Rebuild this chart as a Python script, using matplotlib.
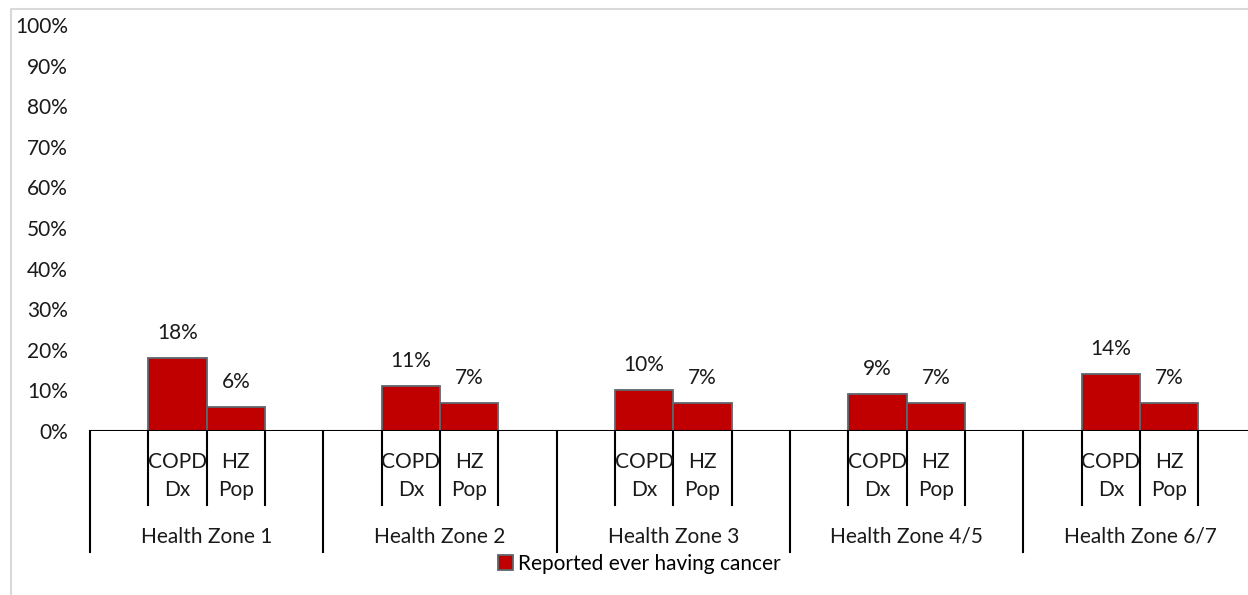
import matplotlib
matplotlib.use("Agg")
import matplotlib.pyplot as plt
from matplotlib.lines import Line2D
from matplotlib.patches import Patch

plt.rcParams['font.family'] = ['Lato', 'DejaVu Sans']

# Share reporting ever having cancer, by health zone
zones = ['Health Zone 1', 'Health Zone 2', 'Health Zone 3', 'Health Zone 4/5', 'Health Zone 6/7']
groups_top = ['COPD', 'HZ']
groups_bottom = ['Dx', 'Pop']
copd_dx = [18, 11, 10, 9, 14]
hz_pop = [6, 7, 7, 7, 7]
series_name = 'Reported ever having cancer'

bar_color = '#c00000'
edge_color = '#5f666d'
text_color = '#1a1a1a'
fs = 15

W, H = 12.48, 5.95
fig = plt.figure(figsize=(W, H), dpi=100)
px_w, px_h = W * 100, H * 100

# axes: x runs over 4 slots per zone (blank, COPD, HZ, blank)
left, right = 90 / px_w, (90 + 20 * 58.33) / px_w
bottom, top = 1 - 431 / px_h, 1 - 25 / px_h
ax = fig.add_axes([left, bottom, right - left, top - bottom])
ax.set_xlim(0, 20)
ax.set_ylim(0, 100)
trans = ax.get_xaxis_transform()

for i, zone in enumerate(zones):
    base = 4 * i
    for j, vals in enumerate([copd_dx, hz_pop]):
        x = base + 1.5 + j
        ax.bar(x, vals[i], width=1, color=bar_color, edgecolor=edge_color, linewidth=1.3, zorder=3)
        ax.annotate(f'{vals[i]}%', xy=(x, vals[i]), xytext=(0, 18), textcoords='offset points',
                    ha='center', va='center', fontsize=fs, color=text_color)
        # inner category labels, two lines
        for label, dy in ((groups_top[j], -22.5), (groups_bottom[j], -42.5)):
            ax.annotate(label, xy=(x, 0), xycoords=('data', 'axes fraction'),
                        xytext=(0, dy), textcoords='offset points', ha='center', va='center',
                        fontsize=fs, color=text_color, annotation_clip=False)
    ax.annotate(zone, xy=(base + 2, 0), xycoords=('data', 'axes fraction'),
                xytext=(0, -76), textcoords='offset points', ha='center', va='center',
                fontsize=fs, color=text_color, annotation_clip=False)

    # tick lines for the category axis
    for k in (1, 2, 3):
        ax.plot([base + k, base + k], [0, -0.182], color='black', lw=1.5, transform=trans, clip_on=False)
    ax.plot([base, base], [0, -0.298], color='black', lw=1.5, transform=trans, clip_on=False)

ax.axhline(0, color='black', lw=1.5, zorder=4)
for s in ax.spines.values():
    s.set_visible(False)
ax.set_xticks([])
ax.set_yticks(range(0, 101, 10))
ax.set_yticklabels([f'{v}%' for v in range(0, 101, 10)], fontsize=fs, color=text_color)
ax.tick_params(axis='y', length=0, pad=16)

fig.legend(handles=[Patch(facecolor=bar_color, edgecolor=edge_color, linewidth=1.3)],
           labels=[series_name], loc='center', bbox_to_anchor=(639 / px_w, 1 - 564 / px_h),
           frameon=False, fontsize=fs, handlelength=0.72, handleheight=0.72, handletextpad=0.25,
           borderpad=0)

# chart area border
bx, by = 11 / px_w, 1 - 9 / px_h
fig.add_artist(Line2D([bx, bx, 1], [0, by, by], transform=fig.transFigure, color='#d9d9d9', lw=1.5))

fig.savefig('out.png', dpi=100)
